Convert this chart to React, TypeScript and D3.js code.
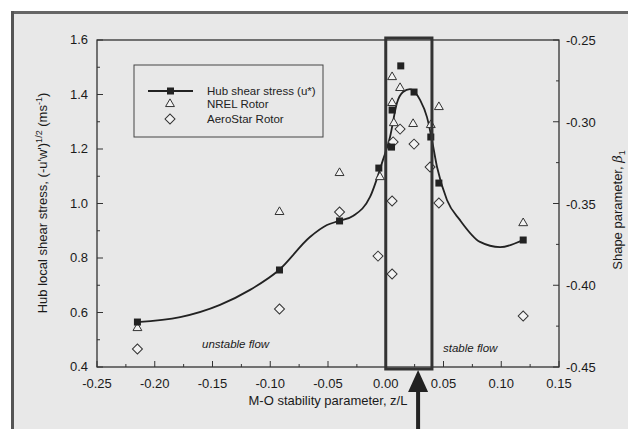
import React, { useRef, useEffect } from "react";
import * as d3 from "d3";

// hub shear stress (filled squares)
const hubX = [-0.215, -0.092, -0.040, -0.006, 0.005, 0.0055, 0.013, 0.0245, 0.039, 0.046, 0.119];
const hubY = [0.565, 0.756, 0.936, 1.13, 1.207, 1.343, 1.505, 1.409, 1.244, 1.075, 0.866];

// NREL rotor (open triangles)
const nrelX = [-0.215, -0.092, -0.040, -0.005, 0.0055, 0.0055, 0.0124, 0.007, 0.0237, 0.039, 0.046, 0.119];
const nrelY = [0.543, 0.969, 1.112, 1.097, 1.369, 1.464, 1.424, 1.295, 1.292, 1.288, 1.354, 0.928];

// AeroStar rotor (open diamonds)
const aeroX = [-0.215, -0.092, -0.040, -0.0067, 0.0055, 0.0055, 0.0064, 0.0124, 0.0245, 0.0384, 0.046, 0.119];
const aeroY = [0.466, 0.613, 0.969, 0.807, 0.741, 1.009, 1.226, 1.273, 1.218, 1.134, 1.002, 0.587];

// smooth fitted curve through hub data
const fitX = [-0.2154, -0.178, -0.1435, -0.1175, -0.0924, -0.0656, -0.0509, -0.0405, -0.028, -0.0136, -0.0024, 0.0037, 0.0097, 0.0149, 0.021, 0.0297, 0.0357, 0.04, 0.0444, 0.053, 0.0643, 0.0816, 0.099, 0.1188];
const fitY = [0.565, 0.583, 0.628, 0.683, 0.756, 0.877, 0.921, 0.936, 0.955, 1.024, 1.16, 1.244, 1.369, 1.409, 1.42, 1.38, 1.317, 1.233, 1.134, 1.013, 0.939, 0.859, 0.84, 0.866];

const xTicks = [-0.25, -0.2, -0.15, -0.1, -0.05, 0, 0.05, 0.1, 0.15];
const yTicks = [0.4, 0.6, 0.8, 1.0, 1.2, 1.4, 1.6];
const y2Ticks = [-0.25, -0.3, -0.35, -0.4, -0.45];

const boxRange = [0, 0.04];
const arrowX = 0.028;

const W = 636;
const H = 437;
const font = "'Liberation Sans', Arial, sans-serif";

export default function App() {
  const svgRef = useRef<SVGSVGElement>(null);

  useEffect(() => {
    const svg = d3.select(svgRef.current);
    svg.selectAll("*").remove();

    const x = d3.scaleLinear().domain([-0.25, 0.15]).range([97, 559]);
    const y = d3.scaleLinear().domain([0.4, 1.6]).range([367, 40]);
    const y2 = d3.scaleLinear().domain([-0.45, -0.25]).range([367, 40]);

    // background + outer frame
    svg.append("rect").attr("x", 12).attr("y", 12).attr("width", W - 12).attr("height", 422).attr("fill", "#e8e8e8");
    svg.append("line").attr("x1", 12).attr("x2", W).attr("y1", 12.5).attr("y2", 12.5).attr("stroke", "#666").attr("stroke-width", 3);
    svg.append("line").attr("x1", 12.5).attr("x2", 12.5).attr("y1", 11).attr("y2", 435).attr("stroke", "#555").attr("stroke-width", 3);
    svg.append("line").attr("x1", 12).attr("x2", W).attr("y1", 434.5).attr("y2", 434.5).attr("stroke", "#777").attr("stroke-width", 2);

    // plot frame
    svg.append("rect")
      .attr("x", 97).attr("y", 40).attr("width", 462).attr("height", 327)
      .attr("fill", "none").attr("stroke", "#222").attr("stroke-width", 1.2);

    const g = svg.append("g").attr("stroke", "#333").attr("stroke-width", 1);
    // bottom ticks
    d3.range(-0.25, 0.1501, 0.025).forEach((v, i) => {
      const len = i % 2 === 0 ? 6 : 3;
      g.append("line").attr("x1", x(v)).attr("x2", x(v)).attr("y1", 367).attr("y2", 367 - len);
    });
    // left ticks
    d3.range(0.4, 1.6001, 0.1).forEach((v, i) => {
      const len = i % 2 === 0 ? 6 : 3;
      g.append("line").attr("x1", 97).attr("x2", 97 + len).attr("y1", y(v)).attr("y2", y(v));
    });
    // right ticks
    d3.range(-0.45, -0.2499, 0.025).forEach((v, i) => {
      const len = i % 2 === 0 ? 6 : 3;
      g.append("line").attr("x1", 559).attr("x2", 559 - len).attr("y1", y2(v)).attr("y2", y2(v));
    });

    const txt = svg.append("g").attr("font-family", font).attr("font-size", 13).attr("fill", "#1a1a1a");
    xTicks.forEach((v) => {
      txt.append("text").attr("x", x(v)).attr("y", 388).attr("text-anchor", "middle").text(v.toFixed(2));
    });
    yTicks.forEach((v) => {
      txt.append("text").attr("x", 88).attr("y", y(v) + 4).attr("text-anchor", "end").text(v.toFixed(1));
    });
    y2Ticks.forEach((v) => {
      txt.append("text").attr("x", 566).attr("y", y2(v) + 5).attr("text-anchor", "start").text(v.toFixed(2));
    });

    // axis titles
    txt.append("text").attr("x", 328).attr("y", 405).attr("text-anchor", "middle").text("M-O stability parameter, z/L");
    const yl = txt.append("text")
      .attr("transform", "translate(47,203) rotate(-90)")
      .attr("text-anchor", "middle");
    yl.append("tspan").text("Hub local shear stress, (-u'w')");
    yl.append("tspan").attr("font-size", 9).attr("dy", -5).text("1/2");
    yl.append("tspan").attr("dy", 5).text(" (ms");
    yl.append("tspan").attr("font-size", 9).attr("dy", -5).text("-1");
    yl.append("tspan").attr("dy", 5).text(")");
    const yr = txt.append("text")
      .attr("transform", "translate(622,210) rotate(-90)")
      .attr("text-anchor", "middle");
    yr.append("tspan").text("Shape parameter, ");
    yr.append("tspan").attr("font-style", "italic").attr("font-family", "'DejaVu Serif', serif").text("β");
    yr.append("tspan").attr("font-size", 9).attr("dy", 3).text("1");

    // flow labels
    txt.append("text").attr("x", 202).attr("y", 348).attr("font-size", 11.5).attr("font-style", "italic").text("unstable flow");
    txt.append("text").attr("x", 443).attr("y", 352).attr("font-size", 11.5).attr("font-style", "italic").text("stable flow");

    // fitted curve
    const line = d3.line<number>()
      .x((_, i) => x(fitX[i]))
      .y((d) => y(d))
      .curve(d3.curveMonotoneX);
    svg.append("path").attr("d", line(fitY)).attr("fill", "none").attr("stroke", "#222").attr("stroke-width", 1.8);

    // markers
    const tri = d3.symbol().type(d3.symbolTriangle).size(34);
    const dia = d3.symbol().type(d3.symbolSquare).size(50);
    nrelX.forEach((v, i) => {
      svg.append("path").attr("d", tri()).attr("transform", `translate(${x(v)},${y(nrelY[i])})`)
        .attr("fill", "#f2f2f2").attr("stroke", "#333").attr("stroke-width", 1);
    });
    aeroX.forEach((v, i) => {
      svg.append("path").attr("d", dia()).attr("transform", `translate(${x(v)},${y(aeroY[i])}) rotate(45)`)
        .attr("fill", "#f2f2f2").attr("stroke", "#333").attr("stroke-width", 1);
    });
    hubX.forEach((v, i) => {
      svg.append("rect").attr("x", x(v) - 3.5).attr("y", y(hubY[i]) - 3.5).attr("width", 7).attr("height", 7).attr("fill", "#222");
    });

    // highlighted box
    svg.append("rect")
      .attr("x", x(boxRange[0])).attr("y", 38).attr("width", x(boxRange[1]) - x(boxRange[0])).attr("height", 331)
      .attr("fill", "none").attr("stroke", "#333").attr("stroke-width", 3);

    // arrow
    const ax = x(arrowX);
    svg.append("path").attr("d", `M${ax},370 L${ax - 10},392 L${ax + 10},392 Z`).attr("fill", "#222");
    svg.append("rect").attr("x", ax - 2).attr("y", 390).attr("width", 4).attr("height", 47).attr("fill", "#222");

    // legend
    const lg = svg.append("g");
    lg.append("rect").attr("x", 134).attr("y", 65).attr("width", 189).attr("height", 72)
      .attr("fill", "none").attr("stroke", "#444").attr("stroke-width", 1);
    lg.append("line").attr("x1", 148).attr("x2", 193).attr("y1", 91).attr("y2", 91).attr("stroke", "#222").attr("stroke-width", 1.8);
    lg.append("rect").attr("x", 167).attr("y", 87.5).attr("width", 7).attr("height", 7).attr("fill", "#222");
    lg.append("path").attr("d", tri()).attr("transform", "translate(170,104)").attr("fill", "#f2f2f2").attr("stroke", "#333");
    lg.append("path").attr("d", dia()).attr("transform", "translate(170,119) rotate(45)").attr("fill", "#f2f2f2").attr("stroke", "#333");
    const lt = lg.append("g").attr("font-family", font).attr("font-size", 11.5).attr("fill", "#222");
    lt.append("text").attr("x", 207).attr("y", 95).text("Hub shear stress (u*)");
    lt.append("text").attr("x", 207).attr("y", 108).text("NREL Rotor");
    lt.append("text").attr("x", 207).attr("y", 123).text("AeroStar Rotor");
  }, []);

  return (
    <div style={{ margin: -8 }}>
      <svg ref={svgRef} width={W} height={H} style={{ display: "block", background: "#fff" }} />
    </div>
  );
}
